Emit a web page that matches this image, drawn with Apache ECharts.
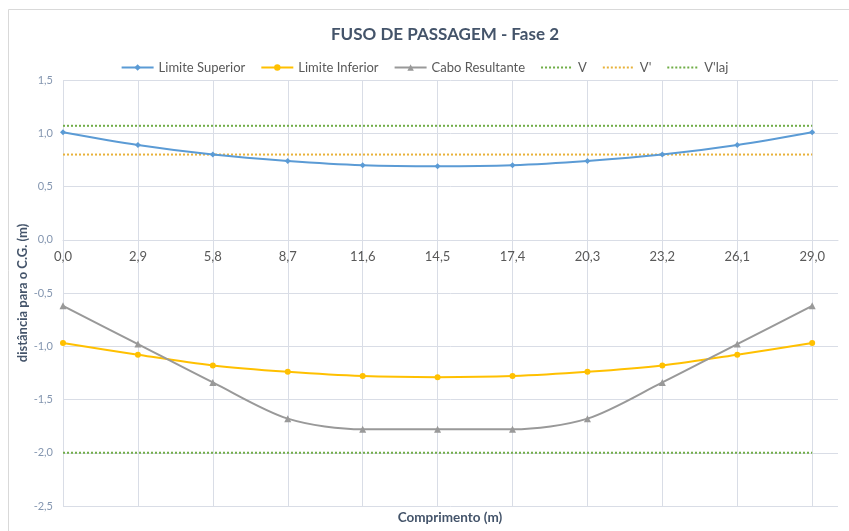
<!DOCTYPE html>
<html>
<head>
<meta charset="utf-8">
<script src="https://cdn.jsdelivr.net/npm/echarts@6/dist/echarts.min.js"></script>
<style>
  html, body { margin: 0; padding: 0; background: #ffffff; }
  #chart { width: 849px; height: 531px; }
</style>
</head>
<body>
<div id="chart"></div>
<script>
// Stations along the span (m)
const stations = [0.0, 2.9, 5.8, 8.7, 11.6, 14.5, 17.4, 20.3, 23.2, 26.1, 29.0];

// Distances to the centroid (m)
const limiteSuperior = [1.01, 0.89, 0.80, 0.74, 0.70, 0.69, 0.70, 0.74, 0.80, 0.89, 1.01];
const limiteInferior = [-0.97, -1.08, -1.18, -1.24, -1.28, -1.29, -1.28, -1.24, -1.18, -1.08, -0.97];
const caboResultante = [-0.62, -0.98, -1.34, -1.68, -1.78, -1.78, -1.78, -1.68, -1.34, -0.98, -0.62];

// Reference levels (m)
const vLevel = 1.07;
const vLinhaLevel = 0.80;
const vLajLevel = -2.00;

const yTicks = { min: -2.5, max: 1.5, step: 0.5 };

const FONT = 'Lato, "Open Sans", sans-serif';
const fmt = v => v.toFixed(1).replace('.', ',');

const pairs = vals => stations.map((x, i) => [x, vals[i]]);
const flat = level => [[stations[0], level], [stations[stations.length - 1], level]];

// plot box
const W = 849, H = 531;
const grid = { left: 63, right: 11, top: 80, bottom: 25 };
const plotH = H - grid.top - grid.bottom;
// lift the category axis from the bottom edge up to y = 0
const zeroOffset = -plotH * (0 - yTicks.min) / (yTicks.max - yTicks.min);

// grid lines: one per station, none at the plot's right edge
const vGridColors = stations.map(() => '#d9dde6').concat(['rgba(0,0,0,0)']);

const chart = echarts.init(document.getElementById('chart'), null, { renderer: 'canvas' });

const hiddenSymbol = { opacity: 0 };

chart.setOption({
  animation: false,
  backgroundColor: '#ffffff',
  title: {
    text: 'FUSO DE PASSAGEM - Fase 2',
    left: 440,
    textAlign: 'center',
    top: 21,
    textStyle: { fontFamily: FONT, fontSize: 17, fontWeight: 'bold', color: '#44546a' }
  },
  legend: {
    top: 56,
    left: 'center',
    itemWidth: 32,
    itemHeight: 8,
    itemGap: 15,
    textStyle: { fontFamily: FONT, fontSize: 13, color: '#595959' },
    data: [
      'Limite Superior',
      'Limite Inferior',
      'Cabo Resultante',
      { name: 'V', itemStyle: hiddenSymbol },
      { name: "V'", itemStyle: hiddenSymbol },
      { name: "V'laj", itemStyle: hiddenSymbol }
    ]
  },
  grid: Object.assign({ containLabel: false }, grid),
  graphic: [
    {
      type: 'rect',
      shape: { x: 8.5, y: 9.5, width: 900, height: 600 },
      style: { fill: 'none', stroke: '#d9d9d9', lineWidth: 1 },
      silent: true
    },
    {
      type: 'text',
      x: 450,
      y: 511,
      style: { text: 'Comprimento (m)', font: 'bold 13.5px ' + FONT, fill: '#44546a', textAlign: 'center' }
    }
  ],
  xAxis: {
    type: 'value',
    min: 0,
    max: 30,
    interval: 2.9,
    position: 'bottom',
    offset: zeroOffset,
    axisLine: { onZero: false, lineStyle: { color: '#d9dde6', width: 1 } },
    axisTick: { show: false },
    axisLabel: {
      showMaxLabel: false,
      fontFamily: FONT,
      fontSize: 13,
      color: '#595959',
      margin: 11,
      formatter: v => (v > 29.05 ? '' : fmt(v))
    },
    splitLine: { show: true, lineStyle: { color: vGridColors, width: 1 } }
  },
  yAxis: {
    type: 'value',
    min: yTicks.min,
    max: yTicks.max,
    interval: yTicks.step,
    name: 'distância para o C.G. (m)',
    nameLocation: 'middle',
    nameGap: 34,
    nameMoveOverlap: false,
    nameRotate: 90,
    nameTextStyle: { fontFamily: FONT, fontSize: 13, fontWeight: 'bold', color: '#44546a' },
    axisLine: { show: false, onZero: false },
    axisTick: { show: false },
    axisLabel: { fontFamily: FONT, fontSize: 11, color: '#8496b0', margin: 10, formatter: fmt },
    splitLine: { show: true, lineStyle: { color: '#d9dde6', width: 1 } }
  },
  series: [
    {
      name: 'Limite Superior',
      type: 'line',
      smooth: 0.3,
      data: pairs(limiteSuperior),
      symbol: 'diamond',
      symbolSize: 6,
      itemStyle: { color: '#5b9bd5' },
      lineStyle: { color: '#5b9bd5', width: 2 },
      z: 5
    },
    {
      name: 'Limite Inferior',
      type: 'line',
      smooth: 0.3,
      data: pairs(limiteInferior),
      symbol: 'circle',
      symbolSize: 6,
      itemStyle: { color: '#ffc000' },
      lineStyle: { color: '#ffc000', width: 2 },
      z: 5
    },
    {
      name: 'Cabo Resultante',
      type: 'line',
      smooth: 0.3,
      data: pairs(caboResultante),
      symbol: 'triangle',
      symbolSize: 7,
      itemStyle: { color: '#999999' },
      lineStyle: { color: '#999999', width: 2 },
      z: 5
    },
    {
      name: 'V',
      type: 'line',
      data: flat(vLevel),
      symbol: 'none',
      itemStyle: { color: '#70ad47' },
      lineStyle: { color: '#70ad47', width: 2, type: [2, 2] },
      z: 3
    },
    {
      name: "V'",
      type: 'line',
      data: flat(vLinhaLevel),
      symbol: 'none',
      itemStyle: { color: '#e8b23a' },
      lineStyle: { color: '#e8b23a', width: 2, type: [2, 2] },
      z: 3
    },
    {
      name: "V'laj",
      type: 'line',
      data: flat(vLajLevel),
      symbol: 'none',
      itemStyle: { color: '#70ad47' },
      lineStyle: { color: '#70ad47', width: 2, type: [2, 2] },
      z: 3
    }
  ]
});
</script>
</body>
</html>
